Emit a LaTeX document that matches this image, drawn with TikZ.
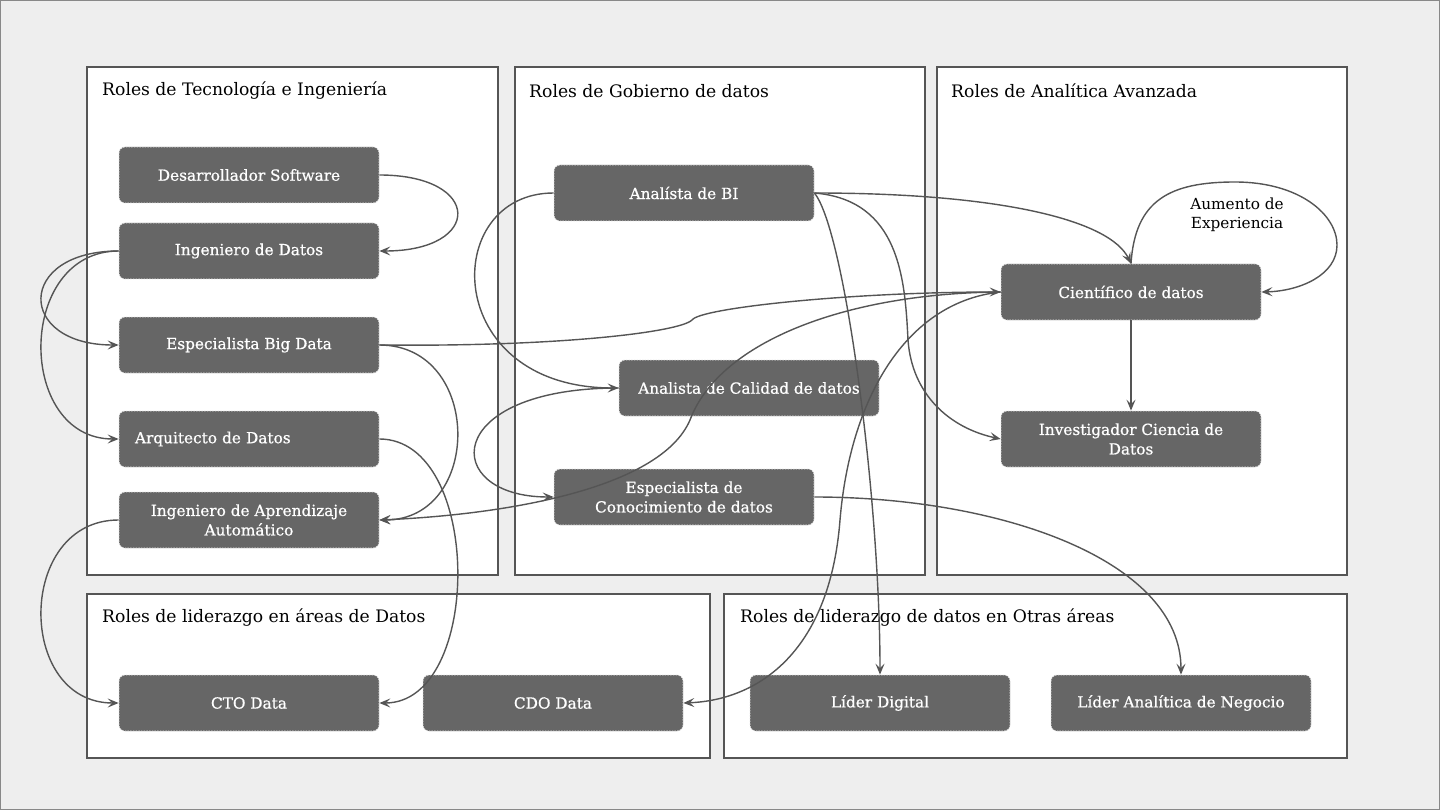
\documentclass[tikz,border=0pt]{standalone}
\usepackage{fontspec}
\setmainfont{DejaVu Serif}
\newfontface\rolefont{DejaVu Serif}[FakeBold=0.7]
\usetikzlibrary{arrows.meta}
\definecolor{bgc}{HTML}{EEEEEE}
\definecolor{linec}{HTML}{555555}
\definecolor{boxc}{HTML}{666666}
\definecolor{dashc}{HTML}{E6E6E6}
\tikzset{
  panel/.style={draw=linec, line width=1.3pt, fill=white},
  ptitle/.style={anchor=west, font=\fontsize{17.2}{20}\selectfont, inner sep=0pt},
  role/.style={draw=dashc, dashed, dash pattern=on 1.5pt off 1.2pt, line width=0.7pt, fill=boxc, rounded corners=6pt,
    minimum width=260pt, minimum height=56pt, text=white, align=center,
    font=\rolefont\fontsize{15.3}{19.5}\selectfont, inner sep=2pt},
  conn/.style={draw=linec, line width=1.4pt, -{Stealth[length=11pt,width=9pt,inset=4.5pt]}},
}
\begin{document}
\begin{tikzpicture}[x=1pt,y=-1pt]
\useasboundingbox (0,0) rectangle (1440,810);
\fill[bgc] (0,0) rectangle (1440,810);
\draw[linec!70, line width=1pt] (0.5,0.5) rectangle (1439.5,809.5);
% panels
\draw[panel] (87,67) rectangle (498,575);
\draw[panel] (515,67) rectangle (925,575);
\draw[panel] (937,67) rectangle (1347,575);
\draw[panel] (87,594) rectangle (710,758);
\draw[panel] (724,594) rectangle (1347,758);
\node[ptitle] (t1) at (102,91) {Roles de Tecnología e Ingeniería};
\node[ptitle] (t2) at (529,91) {Roles de Gobierno de datos};
\node[ptitle] (t3) at (951,91) {Roles de Analítica Avanzada};
\node[ptitle] (t4) at (102,618) {Roles de liderazgo en áreas de Datos};
\node[ptitle] (t5) at (740,618) {Roles de liderazgo de datos en Otras áreas};
% nodes
\node[role] (ds) at (249,175) {Desarrollador Software};
\node[role] (ing) at (249,251) {Ingeniero de Datos};
\node[role] (bd) at (249,345) {Especialista Big Data};
\node[role, text width=228pt, align=left, inner xsep=16pt] (arq) at (249,439) {Arquitecto de Datos};
\node[role] (iaa) at (249,520) {Ingeniero de Aprendizaje\\Automático};
\node[role] (bi) at (684,193) {Analísta de BI};
\node[role] (cal) at (749,388) {Analista de Calidad de datos};
\node[role] (kc) at (684,497) {Especialista de\\Conocimiento de datos};
\node[role] (sci) at (1131,292) {Científico de datos};
\node[role] (inv) at (1131,439) {Investigador Ciencia de\\Datos};
\node[role] (cto) at (249,703) {CTO Data};
\node[role] (cdo) at (553,703) {CDO Data};
\node[role] (ld) at (880,703) {Líder Digital};
\node[role] (lan) at (1181,703) {Líder Analítica de Negocio};
% connectors
\draw[conn] (ds.east) .. controls (483,175) and (483,251) .. (ing.east);
\draw[conn] (ing.west) .. controls (16,251) and (16,345) .. (bd.west);
\draw[conn] (ing.west) .. controls (16,251) and (16,439) .. (arq.west);
\draw[conn] (iaa.west) .. controls (16,520) and (16,703) .. (cto.west);
\draw[conn] (bd.east) .. controls (483,345) and (483,520) .. (iaa.east);
\draw[conn] (arq.east) .. controls (483,439) and (483,703) .. (cto.east);
\draw[conn] (bi.west) .. controls (440,193) and (440,388) .. (cal.west);
\draw[conn] (cal.west) .. controls (440,388) and (440,497) .. (kc.west);
\draw[conn] (bd.east) .. controls (560,347) and (680,332) .. (692,320) .. controls (700,308) and (850,292) .. (sci.west);
\draw[conn] (bi.east) .. controls (1000,193) and (1110,220) .. (sci.north);
\draw[conn] (sci.north) .. controls (1135,200) and (1170,182) .. (1235,182) .. controls (1300,182) and (1337,215) .. (1337,245) .. controls (1337,275) and (1300,291) .. (sci.east);
\node[font=\fontsize{15.3}{19.5}\selectfont, align=center, inner sep=0pt] (lbl) at (1237,215) {Aumento de\\Experiencia};
\draw[conn] (sci.south) -- (inv.north);
\draw[conn] (bi.east) .. controls (845,230) and (880,500) .. (ld.north);
\draw[conn] (bi.east) .. controls (900,200) and (905,280) .. (908,340) .. controls (912,395) and (950,428) .. (inv.west);
\draw[conn] (sci.west) .. controls (850,293) and (720,340) .. (690,420) .. controls (660,490) and (500,515) .. (iaa.east);
\draw[conn] (sci.west) .. controls (905,302) and (850,400) .. (840,520) .. controls (830,650) and (760,700) .. (cdo.east);
\draw[conn] (kc.east) .. controls (1000,497) and (1181,560) .. (lan.north);
\end{tikzpicture}
\end{document}
